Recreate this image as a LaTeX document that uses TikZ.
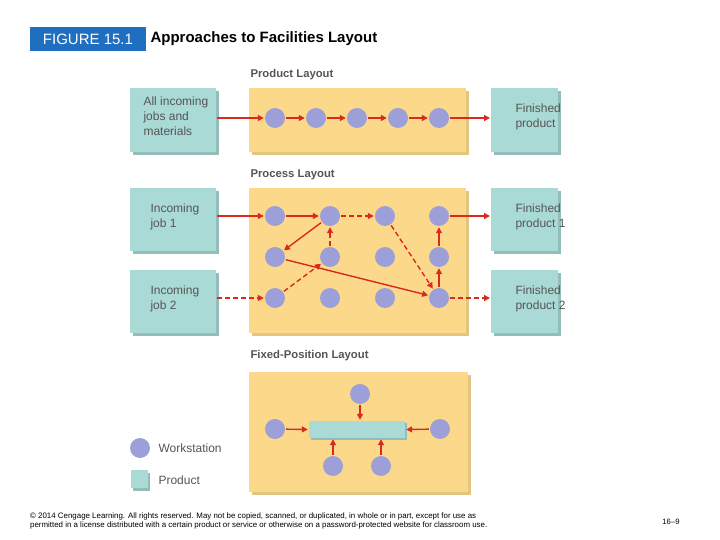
\documentclass[tikz,border=0pt]{standalone}
\usepackage{fontspec}
\setmainfont{Liberation Sans}
\usetikzlibrary{arrows.meta}
\definecolor{pan}{HTML}{FCD98A}
\definecolor{pansh}{HTML}{E2C57E}
\definecolor{teal}{HTML}{A9DAD6}
\definecolor{tealsh}{HTML}{93BDB9}
\definecolor{ws}{HTML}{9C9FD8}
\definecolor{rd}{HTML}{DA2A1E}
\definecolor{tb}{HTML}{1F6EBF}
\definecolor{tx}{HTML}{555555}
\tikzset{
 ws/.style={circle,fill=ws,minimum size=20pt,inner sep=0pt},
 fl/.style={draw=rd,line width=1.4pt,-{Triangle[length=6pt,width=6pt]},shorten >=1pt,shorten <=1pt},
 dl/.style={fl,dash pattern=on 5pt off 3pt},
 lbl/.style={font=\fontsize{11.3}{13}\selectfont\bfseries,text=tx,anchor=west},
 btxt/.style={font=\fontsize{12}{15}\selectfont,text=tx,align=left,anchor=north west}
}
\begin{document}
\begin{tikzpicture}[x=1pt,y=-1pt]
\useasboundingbox (0,0) rectangle (720,540);
% title
\node[fill=tb,text=white,minimum width=116pt,minimum height=24pt,inner sep=0pt,font=\fontsize{15}{17}\selectfont] (fig) at (88,39) {FIGURE 15.1};
\node[anchor=west,font=\fontsize{15}{17}\selectfont\bfseries] (ttl) at (147,39) {Approaches to Facilities Layout};
\foreach \a/\b/\c/\d/\f/\s in {
 249/88/466/152/pan/pansh, 130/88/216/152/teal/tealsh, 491/88/558/152/teal/tealsh,
 249/188/466/333/pan/pansh, 130/188/216/251/teal/tealsh, 130/270/216/333/teal/tealsh,
 491/188/558/251/teal/tealsh, 491/270/558/333/teal/tealsh,
 249/372/468/492/pan/pansh}{
 \fill[\s] (\a+3,\b+3) rectangle (\c+3,\d+3);
 \fill[\f] (\a,\b) rectangle (\c,\d);
}
% product layout
\node[lbl] (pl) at (247,75) {Product Layout};
\coordinate (inA) at (216,118);
\coordinate (outA) at (491,118);
\node[btxt] (tA) at (140,93) {All incoming\\jobs and\\materials};
\node[btxt] (fA) at (512,100) {Finished\\product};
\foreach \i/\x in {1/275,2/316,3/357,4/398,5/439} \node[ws] (p\i) at (\x,118) {};
\draw[fl] (inA) -- (p1);
\draw[fl] (p1) -- (p2); \draw[fl] (p2) -- (p3); \draw[fl] (p3) -- (p4); \draw[fl] (p4) -- (p5);
\draw[fl] (p5) -- (outA);
% process layout
\node[lbl] (prl) at (247,175) {Process Layout};
\node[btxt] (j1) at (147,200) {Incoming\\job 1};
\node[btxt] (j2) at (147,282) {Incoming\\job 2};
\node[btxt] (f1) at (512,200) {Finished\\product 1};
\node[btxt] (f2) at (512,282) {Finished\\product 2};
\coordinate (in1) at (216,216); \coordinate (in2) at (216,298);
\coordinate (o1) at (491,216); \coordinate (o2) at (491,298);
\foreach \r/\y in {1/216,2/257,3/298}
 \foreach \c/\x in {1/275,2/330,3/385,4/439}
  \node[ws] (q\r\c) at (\x,\y) {};
\draw[fl] (in1) -- (q11);
\draw[fl] (q11) -- (q12);
\draw[dl] (q12) -- (q13);
\draw[dl] (q13) -- (q34);
\draw[fl] (q12) -- (q21);
\draw[dl] (q22) -- (q12);
\draw[dl] (q31) -- (q22);
\draw[fl] (q21) -- (q34);
\draw[fl] (q34) -- (q24);
\draw[fl] (q24) -- (q14);
\draw[fl] (q14) -- (o1);
\draw[dl] (q34) -- (o2);
\draw[dl] (in2) -- (q31);
% fixed position
\node[lbl] (fpl) at (247,356) {Fixed-Position Layout};
\fill[tealsh] (311,423) rectangle (407,440);
\node[fill=teal,minimum width=96pt,minimum height=17pt,inner sep=0pt] (prod) at (357,429.5) {};
\node[ws] (ft) at (360,394) {};
\node[ws] (fl1) at (275,429) {};
\node[ws] (fr) at (440,429) {};
\node[ws] (fb1) at (333,466) {};
\node[ws] (fb2) at (381,466) {};
\draw[fl] (ft) -- (prod.north -| ft);
\draw[fl] (fl1) -- (prod.west);
\draw[fl] (fr) -- (prod.east);
\draw[fl] (fb1) -- (prod.south -| fb1);
\draw[fl] (fb2) -- (prod.south -| fb2);
% legend
\node[ws] (lw) at (140,448) {};
\node[btxt,anchor=west] (lwt) at (155,448) {Workstation};
\fill[tealsh] (133,473) rectangle (150,491);
\node[fill=teal,minimum width=17pt,minimum height=18pt,inner sep=0pt] (lp) at (139.5,479) {};
\node[btxt,anchor=west] (lpt) at (155,480) {Product};
% footer
\node[anchor=north west,align=left,inner sep=0pt,font=\fontsize{7.9}{9}\selectfont] (ft1) at (30,513) {\textcopyright{} 2014 Cengage Learning. All rights reserved. May not be copied, scanned, or duplicated, in whole or in part, except for use as\\permitted in a license distributed with a certain product or service or otherwise on a password-protected website for classroom use.};
\node[font=\fontsize{7.7}{9}\selectfont] (pg) at (671,522) {16–9};
\end{tikzpicture}
\end{document}
